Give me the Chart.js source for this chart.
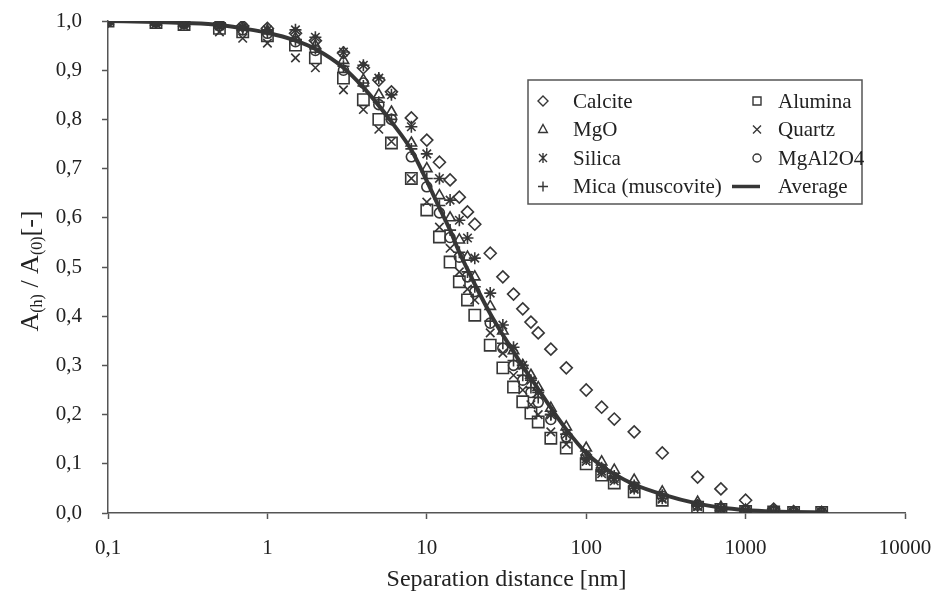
<!doctype html>
<html>
<head>
<title>Separation distance</title>
<script src="https://cdn.jsdelivr.net/npm/chart.js"></script>
<style>
  body { margin: 0; background: #fff; }
  #wrap { width: 932px; height: 595px; }
</style>
</head>
<body>
<div id="wrap"><canvas id="canvas" width="932" height="595"></canvas></div>
<script>
// separation distance [nm]
var distances = [0.1, 0.2, 0.3, 0.5, 0.7, 1, 1.5, 2, 3, 4, 5, 6, 8, 10, 12, 14, 16, 18, 20, 25, 30, 35, 40, 45, 50, 60, 75, 100, 125, 150, 200, 300, 500, 700, 1000, 1500, 2000, 3000];
var xTicks = [0.1, 1, 10, 100, 1000, 10000];
var yTicks = [0, 0.1, 0.2, 0.3, 0.4, 0.5, 0.6, 0.7, 0.8, 0.9, 1.0];

var calcite = [1.000, 0.999, 0.997, 0.995, 0.990, 0.985, 0.975, 0.960, 0.935, 0.905, 0.880, 0.856, 0.803, 0.758, 0.713, 0.677, 0.642, 0.612, 0.587, 0.528, 0.480, 0.445, 0.415, 0.388, 0.366, 0.333, 0.295, 0.250, 0.215, 0.191, 0.165, 0.122, 0.073, 0.049, 0.026, 0.008, 0.003, 0.001];
var alumina = [1.000, 0.997, 0.993, 0.985, 0.978, 0.970, 0.951, 0.925, 0.884, 0.840, 0.800, 0.752, 0.680, 0.616, 0.561, 0.510, 0.470, 0.433, 0.402, 0.341, 0.295, 0.256, 0.226, 0.203, 0.185, 0.152, 0.132, 0.100, 0.077, 0.061, 0.043, 0.026, 0.012, 0.007, 0.003, 0.002, 0.001, 0.001];
var mgo = [1.000, 0.998, 0.996, 0.992, 0.988, 0.980, 0.965, 0.950, 0.920, 0.880, 0.850, 0.815, 0.752, 0.700, 0.645, 0.600, 0.555, 0.520, 0.480, 0.420, 0.370, 0.330, 0.300, 0.280, 0.255, 0.213, 0.175, 0.132, 0.104, 0.087, 0.067, 0.043, 0.022, 0.012, 0.006, 0.004, 0.002, 0.001];
var quartz = [1.000, 0.995, 0.990, 0.978, 0.965, 0.955, 0.925, 0.905, 0.860, 0.820, 0.780, 0.755, 0.680, 0.632, 0.581, 0.538, 0.490, 0.455, 0.433, 0.366, 0.325, 0.280, 0.250, 0.220, 0.200, 0.165, 0.140, 0.105, 0.080, 0.065, 0.048, 0.028, 0.013, 0.007, 0.004, 0.002, 0.001, 0.001];
var silica = [1.000, 0.998, 0.995, 0.990, 0.987, 0.982, 0.982, 0.967, 0.937, 0.910, 0.884, 0.850, 0.785, 0.730, 0.680, 0.636, 0.595, 0.559, 0.518, 0.447, 0.382, 0.337, 0.300, 0.270, 0.245, 0.200, 0.160, 0.110, 0.085, 0.070, 0.050, 0.030, 0.014, 0.008, 0.004, 0.002, 0.001, 0.001];
var mgal2o4 = [1.000, 0.998, 0.995, 0.990, 0.982, 0.975, 0.958, 0.940, 0.900, 0.874, 0.830, 0.800, 0.724, 0.663, 0.610, 0.560, 0.520, 0.480, 0.450, 0.386, 0.335, 0.300, 0.270, 0.245, 0.225, 0.190, 0.155, 0.115, 0.090, 0.072, 0.053, 0.034, 0.016, 0.009, 0.005, 0.003, 0.002, 0.001];
var mica = [1.000, 0.998, 0.996, 0.991, 0.985, 0.977, 0.962, 0.944, 0.908, 0.868, 0.835, 0.800, 0.740, 0.680, 0.625, 0.575, 0.530, 0.490, 0.460, 0.390, 0.345, 0.310, 0.280, 0.255, 0.235, 0.200, 0.160, 0.118, 0.092, 0.075, 0.056, 0.036, 0.017, 0.010, 0.005, 0.003, 0.002, 0.001];
var average = [1.000, 0.998, 0.996, 0.992, 0.985, 0.976, 0.960, 0.943, 0.905, 0.865, 0.828, 0.795, 0.738, 0.675, 0.620, 0.575, 0.530, 0.495, 0.465, 0.405, 0.362, 0.328, 0.298, 0.274, 0.252, 0.214, 0.170, 0.122, 0.096, 0.079, 0.058, 0.038, 0.019, 0.011, 0.006, 0.003, 0.002, 0.001];

var ink = '#363636';
var serif = "'Liberation Serif', 'Times New Roman', serif";

function pts(values) {
  return values.map(function(v, i) { return { x: distances[i], y: v }; });
}

function scatter(label, values, style, radius) {
  return {
    type: 'scatter',
    label: label,
    data: pts(values),
    pointStyle: style,
    pointRadius: radius,
    pointBorderColor: ink,
    pointBackgroundColor: 'rgba(255,255,255,0)',
    pointBorderWidth: 1.6,
    showLine: false
  };
}

// legend drawn inside the plot, two columns
var legendItems = [
  { label: 'Calcite', style: 'rectRot', col: 0, row: 0 },
  { label: 'Alumina', style: 'rect', col: 1, row: 0 },
  { label: 'MgO', style: 'triangle', col: 0, row: 1 },
  { label: 'Quartz', style: 'crossRot', col: 1, row: 1 },
  { label: 'Silica', style: 'star', col: 0, row: 2 },
  { label: 'MgAl2O4', style: 'circle', col: 1, row: 2 },
  { label: 'Mica (muscovite)', style: 'cross', col: 0, row: 3 },
  { label: 'Average', style: 'line', col: 1, row: 3 }
];

function marker(ctx, style, x, y, r) {
  ctx.beginPath();
  if (style === 'rectRot') {
    ctx.moveTo(x, y - r); ctx.lineTo(x + r, y); ctx.lineTo(x, y + r); ctx.lineTo(x - r, y); ctx.closePath();
  } else if (style === 'rect') {
    ctx.rect(x - r * 0.8, y - r * 0.8, r * 1.6, r * 1.6);
  } else if (style === 'triangle') {
    ctx.moveTo(x, y - r); ctx.lineTo(x + r * 0.87, y + r * 0.6); ctx.lineTo(x - r * 0.87, y + r * 0.6); ctx.closePath();
  } else if (style === 'crossRot') {
    ctx.moveTo(x - r * 0.8, y - r * 0.8); ctx.lineTo(x + r * 0.8, y + r * 0.8);
    ctx.moveTo(x + r * 0.8, y - r * 0.8); ctx.lineTo(x - r * 0.8, y + r * 0.8);
  } else if (style === 'star') {
    ctx.moveTo(x - r * 0.8, y - r * 0.8); ctx.lineTo(x + r * 0.8, y + r * 0.8);
    ctx.moveTo(x + r * 0.8, y - r * 0.8); ctx.lineTo(x - r * 0.8, y + r * 0.8);
    ctx.moveTo(x, y - r); ctx.lineTo(x, y + r);
  } else if (style === 'cross') {
    ctx.moveTo(x - r, y); ctx.lineTo(x + r, y);
    ctx.moveTo(x, y - r); ctx.lineTo(x, y + r);
  } else if (style === 'circle') {
    ctx.arc(x, y, r * 0.8, 0, Math.PI * 2);
  }
  ctx.stroke();
}

var boxLegend = {
  id: 'boxLegend',
  afterDraw: function(chart) {
    var ctx = chart.ctx;
    var a = chart.chartArea;
    var bx = a.left + 420, by = a.top + 59, bw = 334, bh = 124;
    ctx.save();
    ctx.fillStyle = '#fff';
    ctx.fillRect(bx, by, bw, bh);
    ctx.strokeStyle = '#555';
    ctx.lineWidth = 1.5;
    ctx.strokeRect(bx, by, bw, bh);
    ctx.font = '21px ' + serif;
    ctx.textBaseline = 'middle';
    ctx.fillStyle = '#222';
    legendItems.forEach(function(it) {
      var y = by + 21 + it.row * 28.5;
      var mx = bx + (it.col ? 229 : 15);
      var tx = bx + (it.col ? 250 : 45);
      ctx.strokeStyle = ink;
      if (it.style === 'line') {
        ctx.lineWidth = 3.5;
        ctx.beginPath(); ctx.moveTo(bx + 204, y); ctx.lineTo(bx + 232, y); ctx.stroke();
      } else {
        ctx.lineWidth = 1.4;
        marker(ctx, it.style, mx, y, 5);
      }
      ctx.fillText(it.label, tx, y + 1);
    });
    ctx.restore();
  }
};

// y axis title with subscripts
var yTitle = {
  id: 'yTitle',
  afterDraw: function(chart) {
    var ctx = chart.ctx;
    var parts = [
      { t: 'A', s: 26, dy: 0 },
      { t: '(h)', s: 16, dy: 7 },
      { t: ' / A', s: 26, dy: 0 },
      { t: '(0)', s: 16, dy: 7 },
      { t: '[-]', s: 26, dy: 0 }
    ];
    ctx.save();
    var total = 0;
    parts.forEach(function(p) { ctx.font = p.s + 'px ' + serif; p.w = ctx.measureText(p.t).width; total += p.w; });
    ctx.translate(30, 271);
    ctx.rotate(-Math.PI / 2);
    ctx.fillStyle = '#222';
    ctx.textBaseline = 'middle';
    var x = -total / 2;
    parts.forEach(function(p) {
      ctx.font = p.s + 'px ' + serif;
      ctx.fillText(p.t, x, p.dy + 1);
      x += p.w;
    });
    ctx.restore();
  }
};

var config = {
  data: {
    datasets: [
      scatter('Calcite', calcite, 'rectRot', 6),
      scatter('Alumina', alumina, 'rect', 8),
      scatter('MgO', mgo, 'triangle', 6),
      scatter('Quartz', quartz, 'crossRot', 6),
      scatter('Silica', silica, 'star', 6),
      scatter('MgAl2O4', mgal2o4, 'circle', 5),
      scatter('Mica (muscovite)', mica, 'cross', 6),
      {
        type: 'line',
        label: 'Average',
        data: pts(average),
        borderColor: ink,
        borderWidth: 4,
        pointRadius: 0,
        fill: false,
        cubicInterpolationMode: 'monotone'
      }
    ]
  },
  options: {
    responsive: false,
    animation: false,
    layout: { padding: { top: 21, right: 27, left: 0, bottom: 0 } },
    plugins: {
      legend: { display: false },
      tooltip: { enabled: false }
    },
    scales: {
      x: {
        type: 'logarithmic',
        min: 0.1,
        max: 10000,
        afterBuildTicks: function(scale) {
          scale.ticks = xTicks.map(function(v) { return { value: v }; });
        },
        afterFit: function(scale) {
          scale.height = 82;
          scale.paddingLeft = 0;
          scale.paddingRight = 10;
        },
        border: { display: true, color: '#555', width: 1.5 },
        grid: { drawOnChartArea: false, drawTicks: true, tickLength: 6, tickColor: '#555', tickWidth: 1.5 },
        ticks: {
          color: '#222',
          padding: 17,
          maxRotation: 0,
          autoSkip: false,
          font: { family: serif, size: 21 },
          callback: function(v) { return String(v).replace('.', ','); }
        },
        title: {
          display: true,
          text: 'Separation distance [nm]',
          color: '#222',
          font: { family: serif, size: 24 },
          padding: { top: 0, bottom: 1 }
        }
      },
      y: {
        type: 'linear',
        min: 0,
        max: 1,
        afterBuildTicks: function(scale) {
          scale.ticks = yTicks.map(function(v) { return { value: v }; });
        },
        afterFit: function(scale) {
          scale.width = 108;
          scale.paddingTop = 10;
          scale.paddingBottom = 0;
        },
        border: { display: true, color: '#555', width: 1.5 },
        grid: { drawOnChartArea: false, drawTicks: true, tickLength: 6, tickColor: '#555', tickWidth: 1.5 },
        ticks: {
          color: '#222',
          padding: 20,
          font: { family: serif, size: 21 },
          callback: function(v) { return v.toFixed(1).replace('.', ','); }
        }
      }
    }
  },
  plugins: [boxLegend, yTitle]
};

window.onload = function() {
  var ctx = document.getElementById('canvas').getContext('2d');
  window.myChart = new Chart(ctx, config);
};
</script>
</body>
</html>
